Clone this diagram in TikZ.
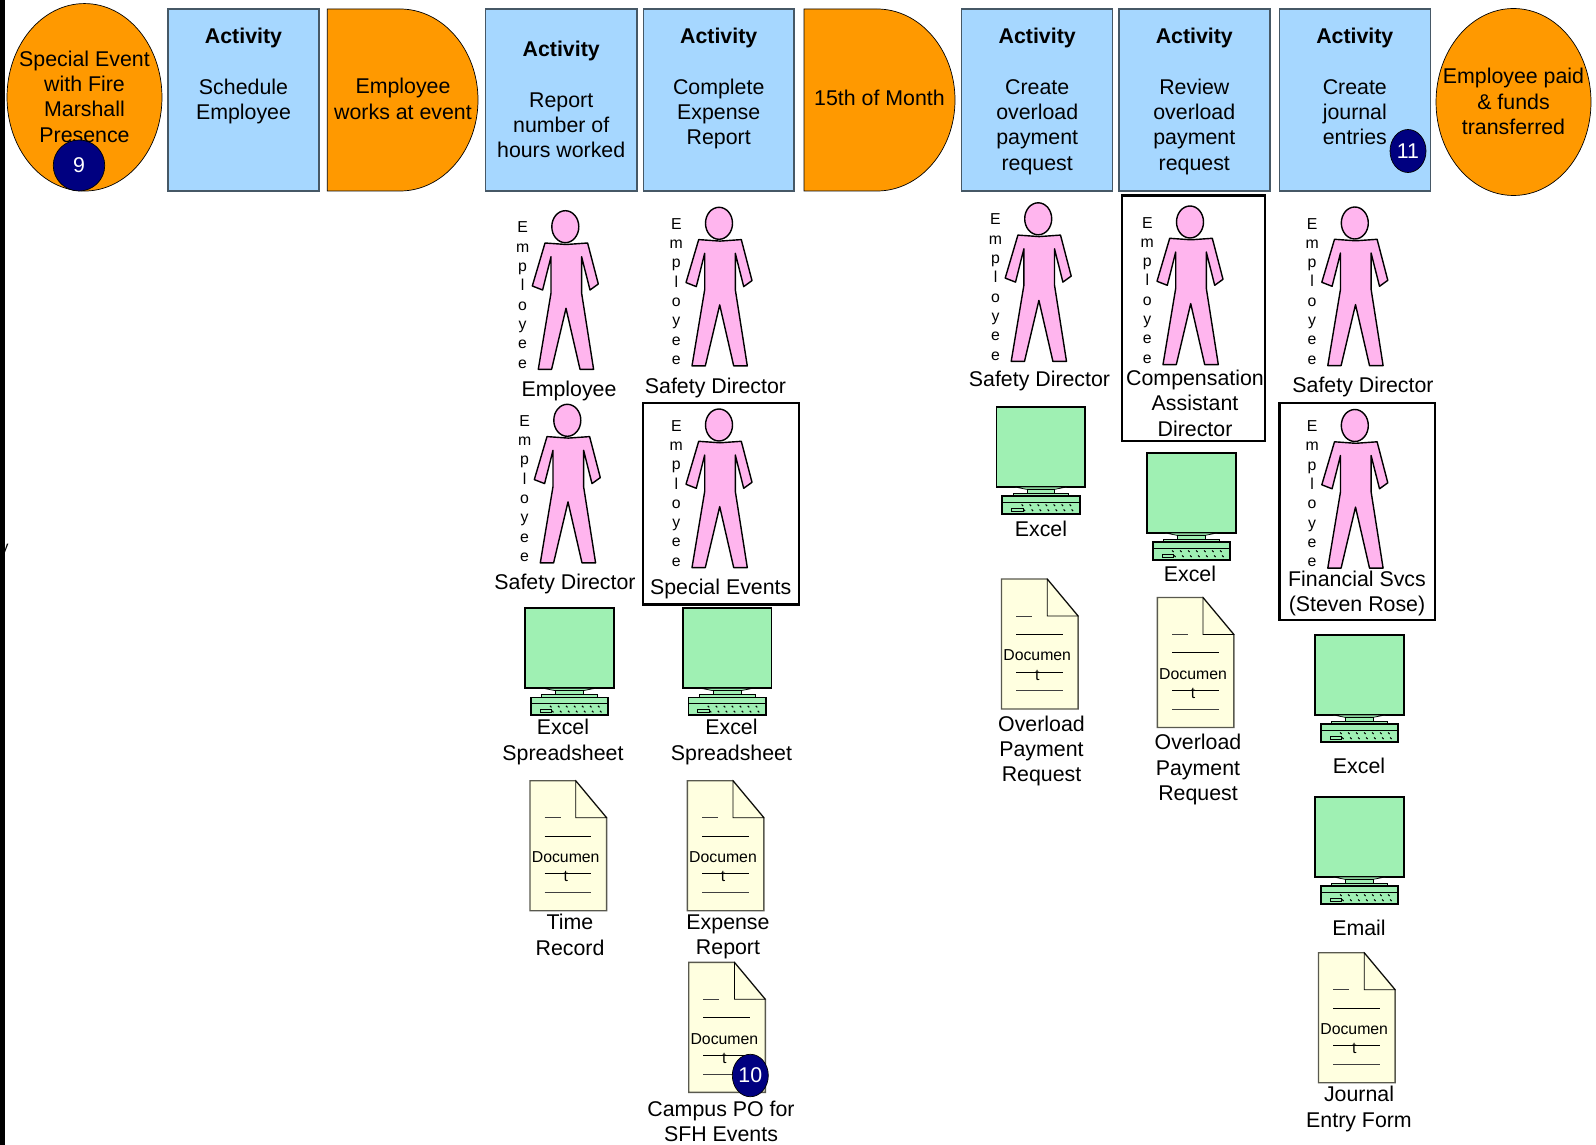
\documentclass[tikz,border=0pt]{standalone}
\usepackage{fontspec}
\setmainfont{Liberation Sans}
\usetikzlibrary{shapes.geometric}
\definecolor{startorange}{HTML}{FF9900}
\definecolor{activityblue}{HTML}{A6D7FF}
\definecolor{boxedge}{HTML}{465866}
\definecolor{personpink}{HTML}{FFB5EE}
\definecolor{screengreen}{HTML}{9FF0B3}
\definecolor{pageyellow}{HTML}{FFFFE0}
\definecolor{stepnavy}{HTML}{000080}
\tikzset{
  mainfont/.style={font=\fontsize{12.15}{14.45}\selectfont},
  smallfont/.style={font=\fontsize{9}{11}\selectfont},
  caption/.style={mainfont, align=center, inner sep=0pt},
  activitybox/.style={draw=boxedge, thick, fill=activityblue, minimum width=3.02cm, minimum height=3.64cm, inner sep=0pt},
  activitytext/.style={caption, anchor=north},
  eventoval/.style={draw=black, fill=startorange, ellipse, minimum width=3.1cm, minimum height=3.75cm, inner sep=0pt},
  delayedge/.style={draw=black, fill=startorange},
  stepmark/.style={draw=black, fill=stepnavy, text=white, ellipse, inner sep=0pt, mainfont},
  personframe/.style={draw=black, line width=1.3pt},
  person/.pic={
    \draw[fill=personpink, thick, line join=round] (-20.3,18) -- (1,19.5) -- (22.3,18) -- (33,59) -- (24.7,65) -- (16.3,31.7) -- (16.3,68) -- (28.3,144.3) -- (14.7,144.3) -- (0.7,83.3) -- (-13.7,144.3) -- (-27,144.3) -- (-14.3,68) -- (-14.3,31.7) -- (-22.7,65) -- (-33,61) -- cycle;
    \draw[fill=personpink, thick] (0,1.7) ellipse [x radius=13.5, y radius=16];
    \node[smallfont, align=center, inner sep=0pt] (-word) at (-42.7,70) {E\\m\\p\\l\\o\\y\\e\\e};
  },
  pcunit/.pic={
    \draw[fill=screengreen, line width=1pt] (0,0) rectangle (88.7,80);
    \draw[fill=screengreen] (18.3,80) -- (30,82.3) -- (58.3,82.3) -- (70.3,80) -- cycle;
    \draw[fill=screengreen] (30.7,82.3) rectangle (58.3,86.3);
    \draw[fill=screengreen] (16.7,86.3) rectangle (72.3,89.3);
    \draw[fill=screengreen, line width=1pt] (5.7,89.3) rectangle (83.3,106.7);
    \draw (5.7,95) -- (83.3,95);
    \foreach \xk in {25,33,...,78} {
      \draw[semithick] (\xk,97.5) -- (\xk+1.5,99);
      \draw[semithick] (\xk+2,102.5) -- (\xk+3.5,104);
    }
    \draw[fill=screengreen] (15,101) rectangle (26.7,104.3);
  },
  docpage/.pic={
    \draw[fill=pageyellow, draw=black!65!pageyellow, thick] (0,0) -- (45.7,0) -- (76.6,37) -- (76.6,130) -- (0,130) -- cycle;
    \draw (45.7,0) -- (45.7,37) -- (76.6,37) -- cycle;
    \draw[black!75] (14.7,37) -- (30.7,37);
    \draw (14.7,55.3) -- (61.3,55.3);
    \draw (14.7,93) -- (61.3,93);
    \draw[black!75] (14.7,111.7) -- (61.3,111.7);
    \node[smallfont, align=center, inner sep=0pt] (-word) at (35.7,86) {Documen\\t};
  }
}
\begin{document}
\begin{tikzpicture}[x=0.02cm, y=-0.02cm, mainfont]
    \useasboundingbox (0,0) rectangle (1596,1145);

    \node[smallfont, inner sep=0pt] (cutletter) at (4.5,550) {y};
    \fill[black] (0,0) rectangle (4.7,1145);

    \node[eventoval] (fireevent) at (84.5,97.3) {};
    \node[caption] (firetext) at (84.5,96.5) {Special Event\\with Fire\\Marshall\\Presence};
    \node[eventoval, minimum height=3.74cm] (paidevent) at (1513.5,102) {};
    \node[caption] (paidtext) at (1513.5,101.5) {Employee paid\\\& funds\\transferred};

    \node[activitybox] (schedule) at (243.5,100) {};
    \node[activitytext] at (243.5,27.5) {\textbf{Activity}\\ \\Schedule\\Employee};
    \node[activitybox, minimum width=3.03cm] (report) at (561.2,100) {};
    \node[activitytext] at (561.2,40.5) {\textbf{Activity}\\ \\Report\\number of\\hours worked};
    \node[activitybox] (expense) at (718.7,100) {};
    \node[activitytext] at (718.7,27.5) {\textbf{Activity}\\ \\Complete\\Expense\\Report};
    \node[activitybox] (createpay) at (1037.2,100) {};
    \node[activitytext] at (1037.2,27.5) {\textbf{Activity}\\ \\Create\\overload\\payment\\request};
    \node[activitybox] (reviewpay) at (1194.3,100) {};
    \node[activitytext] at (1194.3,27.5) {\textbf{Activity}\\ \\Review\\overload\\payment\\request};
    \node[activitybox] (journal) at (1354.8,100) {};
    \node[activitytext] at (1354.8,27.5) {\textbf{Activity}\\ \\Create\\journal\\entries};

    \draw[delayedge] (327.3,9) -- (400,9) .. controls (443,9) and (478,50) .. (478,100) .. controls (478,150) and (443,191) .. (400,191) -- (327.3,191) -- cycle;
    \node[caption] (worktext) at (403,99) {Employee\\works at event};
    \draw[delayedge] (804,9) -- (877,9) .. controls (920,9) and (955,50) .. (955,100) .. controls (955,150) and (920,191) .. (877,191) -- (804,191) -- cycle;
    \node[caption] (monthtext) at (879.5,98) {15th of Month};

    \draw[personframe] (643.3,403) rectangle (799,604.6);
    \draw[personframe] (1121.7,195.4) rectangle (1265.2,440.7);
    \draw[personframe] (1279.5,403) rectangle (1435,620);

    \pic (emplone) at (565.3,225) {person};
    \pic (safetyone) at (567.3,418.6) {person};
    \pic (safetytwo) at (719,221.6) {person};
    \pic (eventstaff) at (719,423.3) {person};
    \pic (safetythree) at (1038.2,217.1) {person};
    \pic (compasst) at (1190,220.3) {person};
    \pic (safetyfour) at (1354.8,221.3) {person};
    \pic (finsvcs) at (1354.8,423.8) {person};

    \pic (pcone) at (525,608.3) {pcunit};
    \pic (pctwo) at (682.7,608.3) {pcunit};
    \pic (pcthree) at (996.5,407) {pcunit};
    \pic (pcfour) at (1147,453) {pcunit};
    \pic (pcfive) at (1315,635) {pcunit};
    \pic (pcsix) at (1315,797) {pcunit};

    \pic (timedoc) at (530,780.7) {docpage};
    \pic (expdoc) at (687.3,780.7) {docpage};
    \pic (podoc) at (688.7,962.3) {docpage};
    \pic (overone) at (1001.5,579) {docpage};
    \pic (overtwo) at (1157.3,597.5) {docpage};
    \pic (jedoc) at (1318.5,952.7) {docpage};

    \node[caption] (lbla) at (569,391) {Employee};
    \node[caption] (lblb) at (565,583.5) {Safety Director};
    \node[caption] (lblc) at (715.5,388) {Safety Director};
    \node[caption] (lbld) at (720.7,589) {Special Events};
    \node[caption] (lble) at (563,742) {Excel\\Spreadsheet};
    \node[caption] (lblf) at (731.5,742) {Excel\\Spreadsheet};
    \node[caption] (lblg) at (570,935) {Time\\Record};
    \node[caption] (lblh) at (728,937) {Expense\\Report};
    \node[caption] (lbli) at (721,1121.5) {Campus PO for\\SFH Events};
    \node[caption] (lblj) at (1039.5,381) {Safety Director};
    \node[caption] (lblk) at (1041,529) {Excel};
    \node[caption] (lbll) at (1041.5,751) {Overload\\Payment\\Request};
    \node[caption] (lblm) at (1195,403) {Compensation\\Assistant\\Director};
    \node[caption] (lbln) at (1190,574) {Excel};
    \node[caption] (lblo) at (1198,769.5) {Overload\\Payment\\Request};
    \node[caption] (lblp) at (1363,387) {Safety Director};
    \node[caption] (lblq) at (1357,593.5) {Financial Svcs\\(Steven Rose)};
    \node[caption] (lblr) at (1359,766) {Excel};
    \node[caption] (lbls) at (1359,928) {Email};
    \node[caption] (lblt) at (1359,1109) {Journal\\Entry Form};

    \node[stepmark, minimum width=1.03cm, minimum height=1.02cm] (stepnine) at (79,165.5) {9};
    \node[stepmark, minimum width=0.72cm, minimum height=0.85cm] (stepten) at (750.3,1075.5) {10};
    \node[stepmark, minimum width=0.72cm, minimum height=0.86cm] (stepeleven) at (1408,151) {11};
\end{tikzpicture}
\end{document}
